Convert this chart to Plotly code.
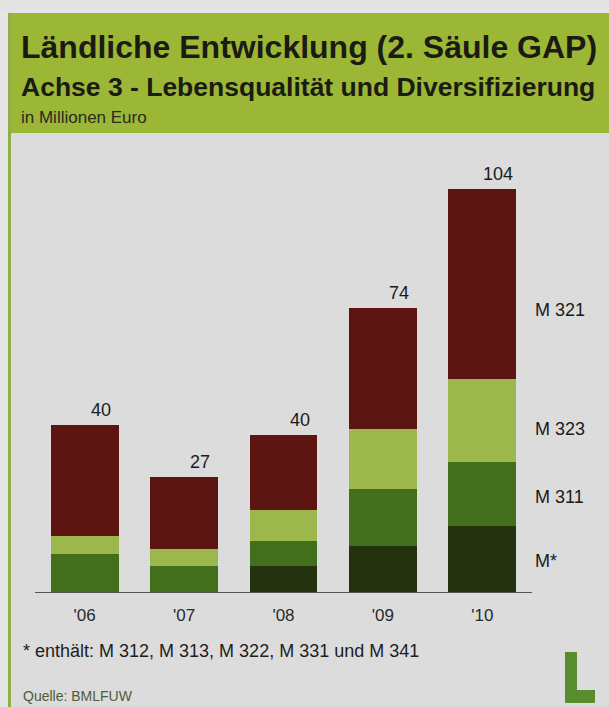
import plotly.graph_objects as go

# ---- data (Millionen Euro) ----
years = ["'06", "'07", "'08", "'09", "'10"]
m_star = [0.0, 0.0, 6.8, 11.9, 17.0]
m_311 = [9.7, 6.8, 6.3, 14.8, 16.5]
m_323 = [4.7, 4.4, 8.1, 15.3, 21.4]
m_321 = [28.8, 18.4, 19.4, 31.4, 49.1]
total_labels = ["40", "27", "40", "74", "104"]
series_names = ["M*", "M 311", "M 323", "M 321"]
footnote = "* enthält: M 312, M 313, M 322, M 331 und M 341"
source = "Quelle: BMLFUW"

colors = ["#24320e", "#436f1c", "#9cb84c", "#5c1510"]

W, H = 609, 707
ML, MR, MT, MB = 35, 77, 150, 115
PW, PH = W - ML - MR, H - MT - MB
FONT = "Liberation Sans, Arial"


def px(x):
    return (x - ML) / PW


def py(y):
    return (H - MB - y) / PH


fig = go.Figure()
for name, vals, col in zip(series_names, [m_star, m_311, m_323, m_321], colors):
    fig.add_trace(go.Bar(x=years, y=vals, name=name, marker=dict(color=col, line=dict(width=0)),
                         hoverinfo="x+y+name"))

totals = [a + b + c + d for a, b, c, d in zip(m_star, m_311, m_323, m_321)]
ann = []
for yr, t, lab in zip(years, totals, total_labels):
    ann.append(dict(x=yr, y=t, text=lab, showarrow=False, xref="x", yref="y",
                    yanchor="bottom", xshift=16, yshift=3,
                    font=dict(family=FONT, size=18, color="#1a1a1a")))

# right side series labels (pixel y positions)
label_y_px = [561, 497, 429, 310]
for name, ypx in zip(series_names, label_y_px):
    ann.append(dict(x=px(533), y=py(ypx), xref="paper", yref="paper", text=name,
                    showarrow=False, xanchor="left", yanchor="middle",
                    font=dict(family=FONT, size=18, color="#1a1a1a")))

# titles
ann.append(dict(x=px(19), y=py(47), xref="paper", yref="paper", xanchor="left", yanchor="middle",
                text="<b>Ländliche Entwicklung (2. Säule GAP)</b>", showarrow=False,
                font=dict(family=FONT, size=32, color="#1b1b14")))
ann.append(dict(x=px(19), y=py(87), xref="paper", yref="paper", xanchor="left", yanchor="middle",
                text="<b>Achse 3 - Lebensqualität und Diversifizierung</b>", showarrow=False,
                font=dict(family=FONT, size=26.5, color="#1b1b14")))
ann.append(dict(x=px(19), y=py(117), xref="paper", yref="paper", xanchor="left", yanchor="middle",
                text="in Millionen Euro", showarrow=False,
                font=dict(family=FONT, size=17, color="#2a2a1e")))
ann.append(dict(x=px(21), y=py(651), xref="paper", yref="paper", xanchor="left", yanchor="middle",
                text=footnote, showarrow=False,
                font=dict(family=FONT, size=18, color="#1e1e1e")))
ann.append(dict(x=px(21), y=py(696), xref="paper", yref="paper", xanchor="left", yanchor="middle",
                text=source, showarrow=False,
                font=dict(family=FONT, size=14, color="#4f5c36")))

shapes = [
    # top light strip
    dict(type="rect", xref="paper", yref="paper", x0=px(0), x1=px(W), y0=py(0), y1=py(13),
         fillcolor="#e4e4e4", line=dict(width=0), layer="below"),
    # left light strip
    dict(type="rect", xref="paper", yref="paper", x0=px(0), x1=px(8), y0=py(13), y1=py(H),
         fillcolor="#e6e6e6", line=dict(width=0), layer="below"),
    # green left border
    dict(type="rect", xref="paper", yref="paper", x0=px(8), x1=px(11), y0=py(13), y1=py(H),
         fillcolor="#8fae48", line=dict(width=0), layer="below"),
    # header band
    dict(type="rect", xref="paper", yref="paper", x0=px(11), x1=px(W), y0=py(13), y1=py(133),
         fillcolor="#9cb736", line=dict(width=0), layer="below"),
    # logo L
    dict(type="path", xref="paper", yref="paper",
         path=f"M {px(565)} {py(652)} L {px(577)} {py(652)} L {px(577)} {py(690)} L {px(595)} {py(690)} "
              f"L {px(595)} {py(703)} L {px(565)} {py(703)} Z",
         fillcolor="#588c2c", line=dict(width=0)),
]

fig.update_layout(
    width=W, height=H,
    margin=dict(l=ML, r=MR, t=MT, b=MB, pad=0),
    barmode="stack", bargap=0.316,
    paper_bgcolor="#dcdcdc", plot_bgcolor="rgba(0,0,0,0)",
    showlegend=False,
    annotations=ann, shapes=shapes,
    xaxis=dict(showline=True, linecolor="#555555", linewidth=1, ticks="", showgrid=False,
               tickfont=dict(family=FONT, size=17, color="#2a2a2a"),
               ticklabelstandoff=8, fixedrange=True),
    yaxis=dict(range=[0, PH / 3.872], visible=False, showgrid=False, zeroline=False, fixedrange=True),
)

fig.write_html("out.html", config={"displayModeBar": False},
               post_script="document.body.style.margin='0';document.body.style.overflow='hidden';")
